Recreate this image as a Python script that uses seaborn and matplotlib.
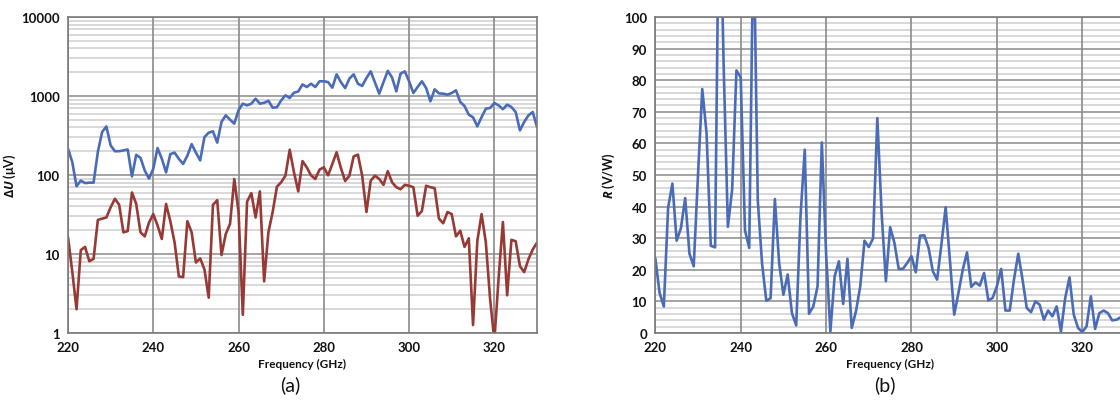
import numpy as np
import pandas as pd
import matplotlib
matplotlib.use("Agg")
import matplotlib.pyplot as plt
import seaborn as sns
from matplotlib.ticker import LogLocator, FixedLocator, NullFormatter, MultipleLocator, FuncFormatter

# ---------------- data ----------------
freq_ghz = list(range(220, 331))

delta_u_blue = [
    215, 146, 72, 85, 79, 80, 80, 196, 350, 412,
    237, 200, 200, 205, 210, 96, 180, 165, 114, 90,
    120, 219, 161, 108, 184, 192, 160, 138, 176, 246,
    192, 153, 302, 343, 357, 257, 470, 569, 502, 447,
    660, 800, 762, 800, 925, 800, 820, 870, 712, 720,
    880, 1020, 945, 1100, 1140, 1400, 1300, 1430, 1300, 1535,
    1535, 1500, 1275, 1880, 1500, 1260, 1660, 1880, 1430, 1340,
    1690, 2050, 1480, 1070, 1500, 2080, 1720, 1145, 1920, 2050,
    1535, 1090, 1300, 1535, 1260, 856, 1215, 1080, 1070, 1040,
    1090, 1180, 840, 747, 580, 537, 413, 540, 690, 705,
    815, 760, 680, 777, 725, 627, 367, 470, 569, 627,
    405,
]

delta_u_red = [
    16.3, 6.0, 2.0, 11.2, 12.3, 8.1, 8.7, 27, 28, 29,
    39, 50, 42, 18.8, 19.5, 60, 43, 18.8, 16.7, 25,
    32, 23, 15.5, 43, 26, 14, 5.2, 5.1, 26, 18.8,
    7.8, 8.8, 6.4, 2.8, 42, 48, 9.7, 17.9, 24, 89,
    34, 1.7, 46, 59, 29, 62, 4.5, 18.8, 34, 71,
    81, 98, 209, 108, 62, 150, 125, 99, 89, 117,
    125, 99, 138, 194, 123, 84, 98, 172, 181, 98,
    34, 85, 98, 89, 75, 112, 81, 70, 66, 75,
    73, 70, 30.5, 35, 73, 70, 68, 28, 24.5, 34,
    32, 16.7, 19.7, 12.3, 15.8, 1.26, 14.6, 32, 14, 2.7,
    0.8, 5.0, 25.4, 3.0, 15.1, 14.5, 7.0, 5.9, 8.6, 11.4,
    13.9,
]

responsivity = [
    23.7, 12.7, 8.4, 39.6, 47.3, 29.2, 33.2, 42.7, 25.1, 21.1,
    50, 77.2, 63.3, 27.6, 27.1, 150, 85, 33.6, 45.4, 83.1,
    80.9, 32.5, 26.9, 130, 42, 22, 10.2, 11, 42.4, 22.2,
    12.1, 18.5, 6.3, 2.4, 36.9, 58, 6.1, 8.4, 14.8, 60.3,
    25, 0.5, 17.9, 22.7, 9.2, 23.5, 1.6, 6.9, 14.8, 29.2,
    27.2, 29.9, 68, 38, 16.4, 33.5, 28.5, 20.3, 20.3, 22.2,
    24.3, 19.2, 30.8, 30.9, 26.9, 19.5, 16.9, 28, 39.8, 23,
    5.8, 12.7, 20, 25.5, 14.6, 16, 15, 19, 10.3, 11.1,
    14.8, 20.3, 7.1, 7.1, 16.9, 25.1, 16.9, 7.9, 6.6, 10,
    9, 4.2, 7.1, 5.3, 8.4, 0.5, 11.1, 17.6, 5.8, 1.6,
    0.3, 2.1, 11.6, 1.3, 6.3, 7.1, 6.3, 4.0, 4.2, 5.0,
    5.0,
]

x_ticks = [220, 240, 260, 280, 300, 320]
log_ticks = [1, 10, 100, 1000, 10000]
lin_ticks = list(range(0, 101, 10))

df_a = pd.DataFrame({"f": freq_ghz, "blue": delta_u_blue, "red": delta_u_red})
df_b = pd.DataFrame({"f": freq_ghz, "R": responsivity})

# ---------------- style ----------------
sns.set_theme(style="white")
plt.rcParams["font.family"] = ["Lato", "DejaVu Sans"]
plt.rcParams["mathtext.fontset"] = "custom"
plt.rcParams["mathtext.it"] = "Open Sans:italic:bold"
plt.rcParams["mathtext.rm"] = "Open Sans:bold"

BLUE = "#4A6CB8"
RED = "#973A36"
MAJ = "#8a8a8a"
MIN = "#d6d6d6"
SPINE = "#7a7a7a"
TXT = "#111111"

fig = plt.figure(figsize=(11.2, 4.02), dpi=100)
W, H = 1120, 402
ax_a = fig.add_axes([68 / W, (H - 334) / H, 469 / W, 316 / H])
ax_b = fig.add_axes([655.3 / W, (H - 334) / H, 469.7 / W, 316 / H])


def style_axes(ax):
    for s in ax.spines.values():
        s.set_color(SPINE)
        s.set_linewidth(1.2)
    ax.set_xlim(220, 330)
    ax.xaxis.set_major_locator(FixedLocator(x_ticks))
    ax.grid(True, which="major", axis="x", color=MAJ, linewidth=1.2)
    ax.grid(True, which="major", axis="y", color=MAJ, linewidth=1.1)
    ax.grid(True, which="minor", axis="y", color=MIN, linewidth=1.3)
    ax.set_axisbelow(True)
    ax.yaxis.set_zorder(0.5)
    ax.xaxis.set_zorder(0.6)
    ax.tick_params(axis="both", which="major", direction="out", length=4,
                   width=1, color=SPINE, labelsize=9.5, pad=2,
                   labelcolor=TXT)
    ax.tick_params(axis="both", which="minor", length=0)
    for lab in ax.get_xticklabels() + ax.get_yticklabels():
        lab.set_fontweight("bold")
    ax.set_xlabel("Frequency (GHz)", fontsize=8.5, fontweight="bold",
                  labelpad=3, color=TXT)


# ---- panel (a) ----
sns.lineplot(data=df_a, x="f", y="blue", ax=ax_a, color=BLUE, linewidth=1.9,
             estimator=None, sort=False)
sns.lineplot(data=df_a, x="f", y="red", ax=ax_a, color=RED, linewidth=1.9,
             estimator=None, sort=False)
ax_a.set_yscale("log")
ax_a.set_ylim(1, 10000)
ax_a.yaxis.set_major_locator(FixedLocator(log_ticks))
ax_a.yaxis.set_major_formatter(FuncFormatter(lambda v, p: f"{int(round(v))}"))
ax_a.yaxis.set_minor_locator(LogLocator(base=10, subs=range(2, 10)))
ax_a.yaxis.set_minor_formatter(NullFormatter())
style_axes(ax_a)
ax_a.set_ylabel(r"$\mathit{\Delta U}$ (μV)", fontsize=9, fontweight="bold",
                color=TXT)
ax_a.yaxis.set_label_coords((18 - 68) / 469, 0.5)

# ---- panel (b) ----
sns.lineplot(data=df_b, x="f", y="R", ax=ax_b, color=BLUE, linewidth=1.9,
             estimator=None, sort=False)
ax_b.set_ylim(0, 100)
ax_b.yaxis.set_major_locator(FixedLocator(lin_ticks))
ax_b.yaxis.set_minor_locator(MultipleLocator(2))
style_axes(ax_b)
ax_b.set_ylabel(r"$\mathit{R}$ (V/W)", fontsize=9, fontweight="bold",
                color=TXT)
ax_b.yaxis.set_label_coords((617 - 655.3) / 469.7, 0.5)

fig.text(290 / W, 1 - 385 / H, "(a)", ha="center", va="center", fontsize=14,
         color=TXT)
fig.text(885 / W, 1 - 385 / H, "(b)", ha="center", va="center", fontsize=14,
         color=TXT)

fig.savefig("out.png", dpi=100)
